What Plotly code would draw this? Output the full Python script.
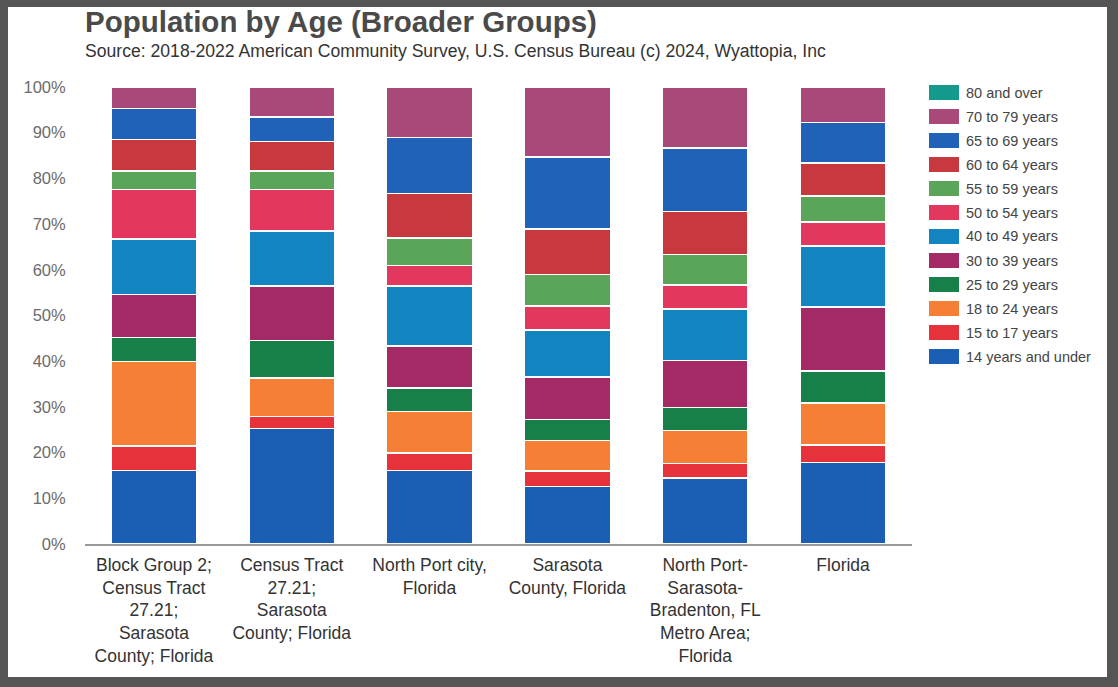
import plotly.graph_objects as go

categories = [
    "Block Group 2;<br>Census Tract<br>27.21;<br>Sarasota<br>County; Florida",
    "Census Tract<br>27.21;<br>Sarasota<br>County; Florida",
    "North Port city,<br>Florida",
    "Sarasota<br>County, Florida",
    "North Port-<br>Sarasota-<br>Bradenton, FL<br>Metro Area;<br>Florida",
    "Florida",
]

# series in stacking order (bottom -> top)
series_names = [
    "14 years and under", "15 to 17 years", "18 to 24 years", "25 to 29 years",
    "30 to 39 years", "40 to 49 years", "50 to 54 years", "55 to 59 years",
    "60 to 64 years", "65 to 69 years", "70 to 79 years", "80 and over",
]
series_colors = [
    "#1b5fb5", "#e5323b", "#f57f35", "#168048",
    "#a32a64", "#1285c0", "#e2385e", "#5aa55a",
    "#c8393f", "#1f62b8", "#a8497a", "#139a8c",
]

age_14_under = [16.1, 25.3, 16.1, 12.6, 14.4, 17.8]
age_15_17 = [5.4, 2.6, 3.8, 3.4, 3.2, 3.9]
age_18_24 = [18.4, 8.4, 9.1, 6.6, 7.2, 9.2]
age_25_29 = [5.3, 8.2, 5.1, 4.6, 5.1, 7.0]
age_30_39 = [9.4, 12.0, 9.2, 9.3, 10.2, 14.0]
age_40_49 = [12.1, 12.0, 13.2, 10.3, 11.3, 13.3]
age_50_54 = [10.9, 9.1, 4.4, 5.3, 5.3, 5.3]
age_55_59 = [4.0, 4.0, 6.1, 6.9, 6.7, 5.6]
age_60_64 = [6.9, 6.5, 9.7, 9.9, 9.4, 7.3]
age_65_69 = [6.8, 5.3, 12.2, 15.8, 13.9, 8.8]
age_70_79 = [4.7, 6.6, 11.1, 15.3, 13.3, 7.8]
age_80_over = [0, 0, 0, 0, 0, 0]

series_values = [
    age_14_under, age_15_17, age_18_24, age_25_29, age_30_39, age_40_49,
    age_50_54, age_55_59, age_60_64, age_65_69, age_70_79, age_80_over,
]

y_ticks = list(range(0, 101, 10))
y_tick_labels = [f"{v}%" for v in y_ticks]

W, H = 1118, 687
L, R, T, B = 85, 206, 87, 143
PW, PH = W - L - R, H - T - B


def px_x(px):
    return (px - L) / PW


def px_y(py):
    return (H - B - py) / PH


FONT = "Liberation Sans, Arial, sans-serif"

fig = go.Figure()
for name, color, vals in zip(series_names, series_colors, series_values):
    fig.add_trace(go.Bar(
        x=categories, y=vals, name=name,
        marker=dict(color=color, line=dict(color="white", width=1.5)),
        showlegend=False,
        hovertemplate="%{y}%<extra>" + name + "</extra>",
    ))

shapes = [
    # white page inside dark frame
    dict(type="rect", xref="paper", yref="paper",
         x0=px_x(8), x1=px_x(1107), y0=px_y(677), y1=px_y(7),
         fillcolor="white", line=dict(width=0), layer="below"),
]
annotations = [
    dict(text="<b>Population by Age (Broader Groups)</b>", xref="paper", yref="paper",
         x=px_x(83), y=px_y(22), xanchor="left", yanchor="middle", showarrow=False,
         font=dict(family=FONT, size=29.5, color="#4a4a4a")),
    dict(text="Source: 2018-2022 American Community Survey, U.S. Census Bureau (c) 2024, Wyattopia, Inc",
         xref="paper", yref="paper",
         x=px_x(83), y=px_y(51), xanchor="left", yanchor="middle", showarrow=False,
         font=dict(family=FONT, size=17.6, color="#333333")),
]

# legend (top entry = last series)
for i, (name, color) in enumerate(zip(series_names[::-1], series_colors[::-1])):
    cy = 92.5 + 24 * i
    shapes.append(dict(type="rect", xref="paper", yref="paper",
                       x0=px_x(929), x1=px_x(959), y0=px_y(cy + 7.5), y1=px_y(cy - 7.5),
                       fillcolor=color, line=dict(width=0)))
    annotations.append(dict(text=name, xref="paper", yref="paper",
                            x=px_x(964), y=px_y(cy), xanchor="left", yanchor="middle",
                            showarrow=False,
                            font=dict(family=FONT, size=14.5, color="#444444")))

fig.update_layout(
    width=W, height=H,
    margin=dict(l=L, r=R, t=T, b=B, autoexpand=False),
    paper_bgcolor="#555555",
    plot_bgcolor="rgba(0,0,0,0)",
    barmode="stack",
    bargap=0.377,
    shapes=shapes,
    annotations=annotations,
    font=dict(family=FONT),
    xaxis=dict(
        showline=True, linecolor="#9a9a9a", linewidth=1.5,
        showgrid=False, ticks="", tickangle=0, ticklabelstandoff=4,
        tickfont=dict(family=FONT, size=17.5, color="#333333"),
    ),
    yaxis=dict(
        range=[0, 100], tickmode="array", tickvals=y_ticks, ticktext=y_tick_labels,
        showgrid=False, zeroline=False, showline=False,
        ticks="outside", ticklen=15, tickcolor="rgba(0,0,0,0)",
        tickfont=dict(family=FONT, size=16.5, color="#6b6b6b"),
    ),
)

fig.write_html(
    "out.html",
    config={"displayModeBar": False},
    post_script="document.body.style.margin='0';document.body.style.overflow='hidden';",
)
